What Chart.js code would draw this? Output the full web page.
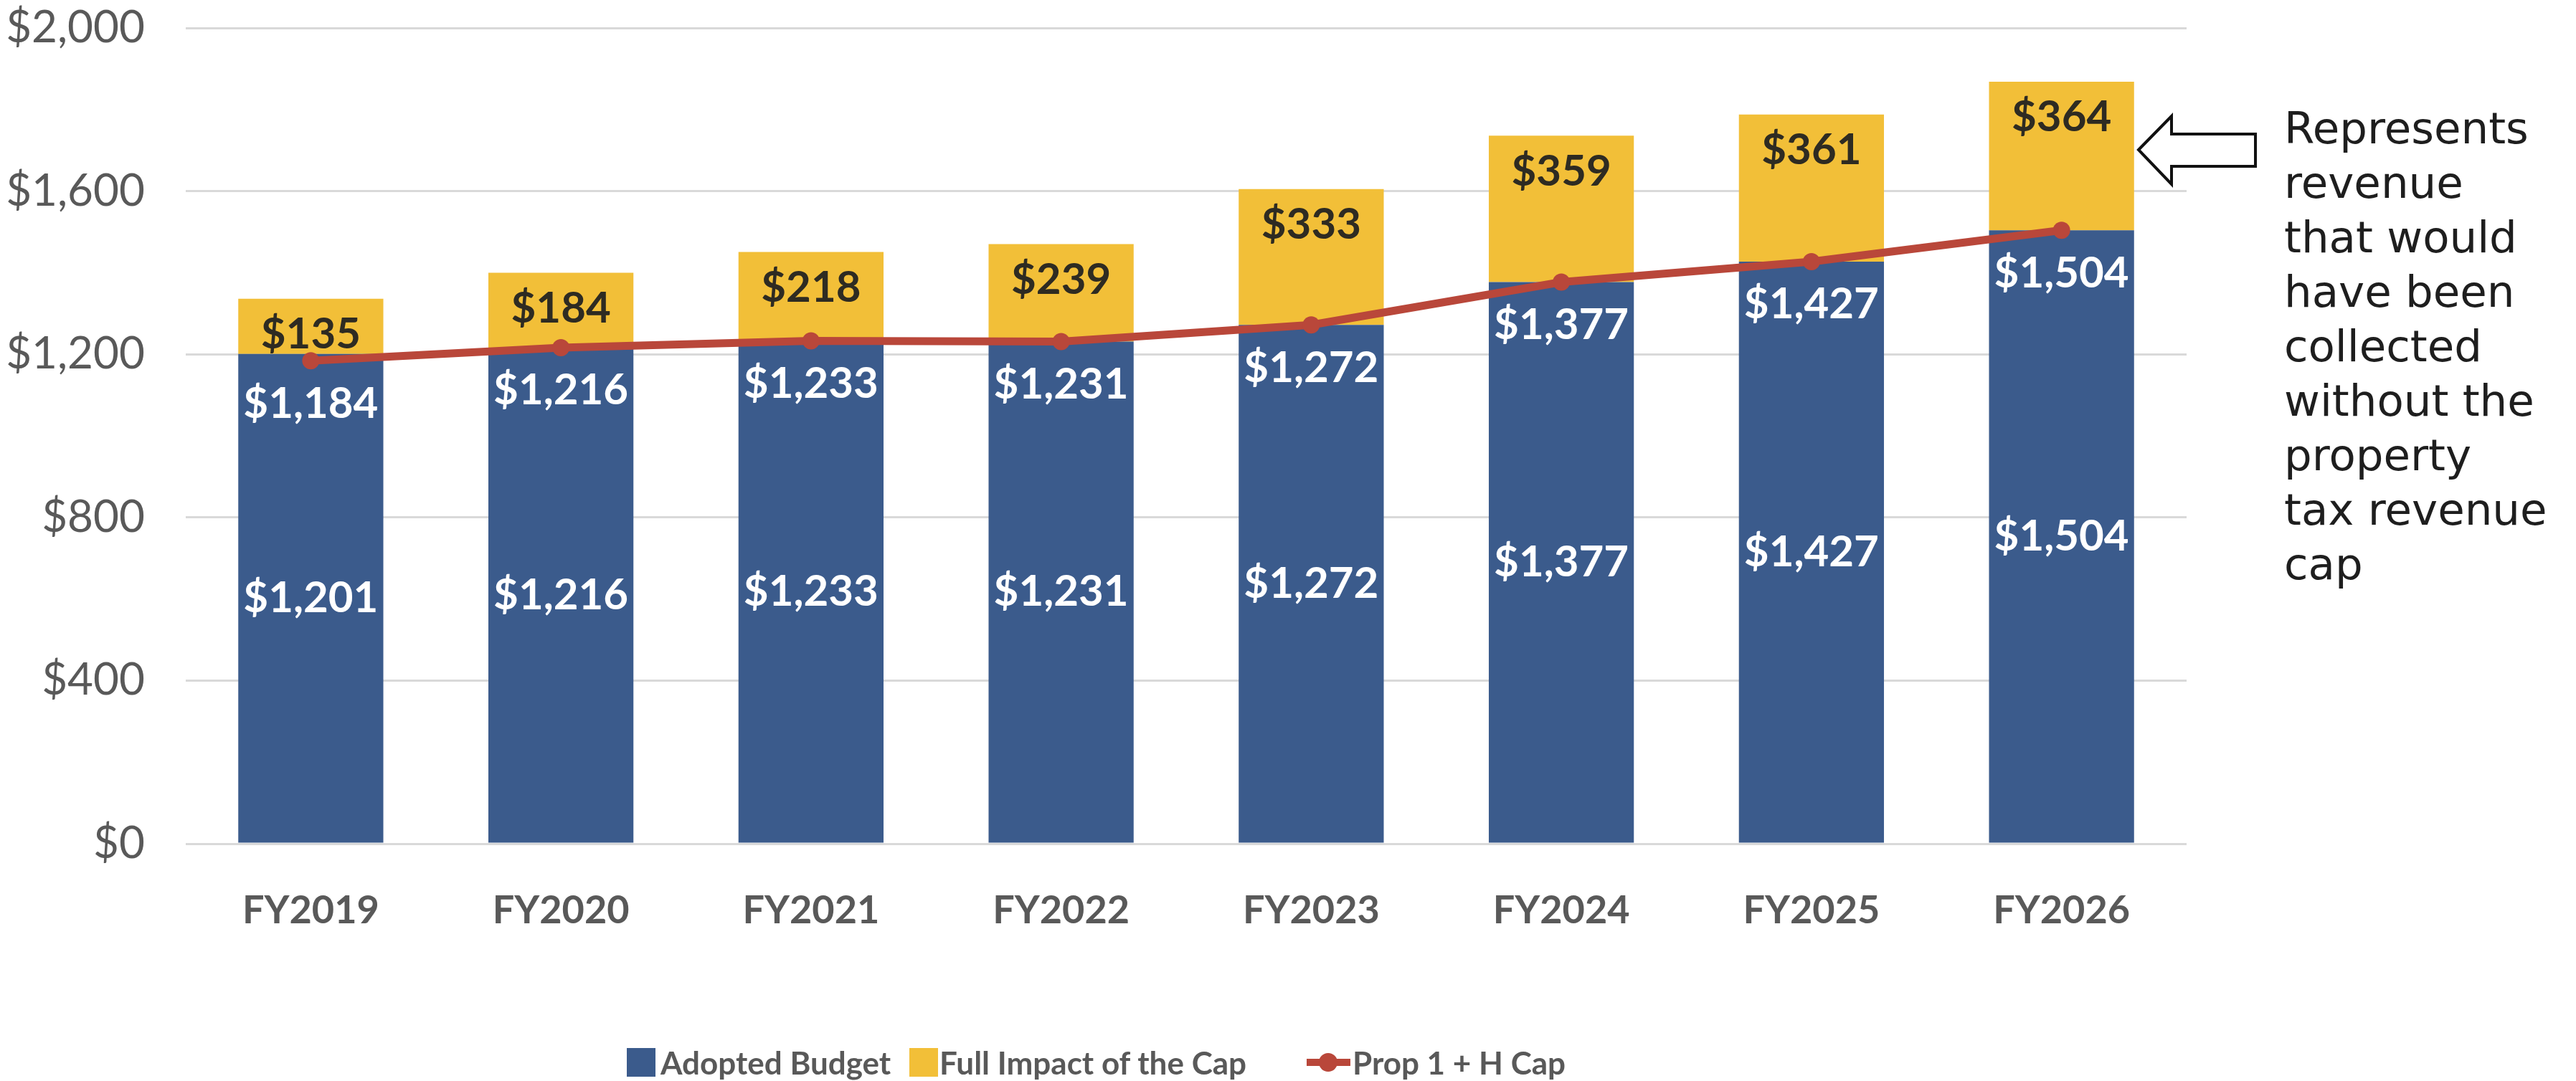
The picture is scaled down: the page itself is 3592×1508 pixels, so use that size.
<!DOCTYPE html>
<html>
<head>
<meta charset="utf-8">
<script src="https://cdn.jsdelivr.net/npm/chart.js@4"></script>
<style>
  html, body { margin: 0; padding: 0; background: #fff; }
  #wrap { position: relative; width: 3592px; height: 1508px; }
  #note {
    position: absolute; left: 3185px; top: 141px;
    font-family: "DejaVu Sans", sans-serif; font-size: 61px; line-height: 76px; color: #1e1e1e;
  }
  .lg { position: absolute; font-family: Lato, sans-serif; font-weight: 700; font-size: 44px; color: #595959; line-height: 44px; top: 1460px; white-space: nowrap; }
  .sw { position: absolute; width: 40px; height: 40px; top: 1462px; }
</style>
</head>
<body>
<div id="wrap">
  <canvas id="capChart" width="3592" height="1508"></canvas>

  <svg style="position:absolute;left:0;top:0" width="3592" height="1508">
    <!-- seta da anotação -->
    <polygon points="2982,209 3028,162 3028,187 3145,187 3145,232 3028,232 3028,257"
             fill="#fff" stroke="#111" stroke-width="4" stroke-linejoin="miter"/>
    <!-- marcador da linha na legenda -->
    <line x1="1822" y1="1482" x2="1883" y2="1482" stroke="#b9473a" stroke-width="10"/>
    <circle cx="1852" cy="1482" r="13" fill="#b9473a"/>
  </svg>

  <div id="note">Represents<br>revenue<br>that would<br>have been<br>collected<br>without the<br>property<br>tax revenue<br>cap</div>

  <div class="sw" style="left:874px;background:#3b5b8c"></div>
  <div class="lg" style="left:921px">Adopted Budget</div>
  <div class="sw" style="left:1268px;background:#f2bf38"></div>
  <div class="lg" style="left:1310px">Full Impact of the Cap</div>
  <div class="lg" style="left:1886px">Prop 1 + H Cap</div>
</div>

<script>
// Dados do gráfico
const years = ['FY2019', 'FY2020', 'FY2021', 'FY2022', 'FY2023', 'FY2024', 'FY2025', 'FY2026'];
const adoptedBudget = [1201, 1216, 1233, 1231, 1272, 1377, 1427, 1504];
const fullImpact = [135, 184, 218, 239, 333, 359, 361, 364];
const prop1HCap = [1184, 1216, 1233, 1231, 1272, 1377, 1427, 1504];
const yTicks = [0, 400, 800, 1200, 1600, 2000];

const BLUE = '#3b5b8c';
const GOLD = '#f2bf38';
const RED = '#b9473a';

function money(v) {
    return '$' + v.toLocaleString('en-US');
}

// Rótulos de valor sobre as barras e a linha
const valueLabels = {
    id: 'valueLabels',
    afterDatasetsDraw(chart) {
        const ctx = chart.ctx;
        ctx.save();
        ctx.font = '700 60px Lato';
        ctx.textAlign = 'center';
        ctx.textBaseline = 'middle';

        chart.getDatasetMeta(0).data.forEach((bar, i) => {
            ctx.fillStyle = '#ffffff';
            ctx.fillText(money(adoptedBudget[i]), bar.x, (bar.y + bar.base) / 2);
        });
        chart.getDatasetMeta(1).data.forEach((bar, i) => {
            ctx.fillStyle = '#2e2b22';
            ctx.fillText(money(fullImpact[i]), bar.x, bar.y + 50);
        });
        chart.getDatasetMeta(2).data.forEach((pt, i) => {
            ctx.fillStyle = '#ffffff';
            ctx.fillText(money(prop1HCap[i]), pt.x, pt.y + 60);
        });
        ctx.restore();
    }
};

const ctx = document.getElementById('capChart').getContext('2d');
const capChart = new Chart(ctx, {
    data: {
        labels: years,
        datasets: [
            {
                type: 'bar',
                label: 'Adopted Budget',
                data: adoptedBudget,
                backgroundColor: BLUE,
                stack: 'budget',
                order: 2,
                barPercentage: 0.58,
                categoryPercentage: 1
            },
            {
                type: 'bar',
                label: 'Full Impact of the Cap',
                data: fullImpact,
                backgroundColor: GOLD,
                stack: 'budget',
                order: 2,
                barPercentage: 0.58,
                categoryPercentage: 1
            },
            {
                type: 'line',
                label: 'Prop 1 + H Cap',
                data: prop1HCap,
                borderColor: RED,
                backgroundColor: RED,
                borderWidth: 11,
                pointRadius: 12,
                pointBorderWidth: 0,
                tension: 0,
                stack: 'cap',
                order: 1
            }
        ]
    },
    options: {
        responsive: false,
        animation: false,
        layout: { padding: { left: 0, right: 543, top: 39, bottom: 0 } },
        plugins: {
            legend: { display: false },
            tooltip: { enabled: false }
        },
        scales: {
            x: {
                stacked: true,
                grid: { display: false },
                border: { display: false },
                ticks: {
                    color: '#595959',
                    font: { family: 'Lato', size: 54, weight: '700' },
                    padding: 53
                },
                afterFit(scale) { scale.height = 331; }
            },
            y: {
                stacked: true,
                min: 0,
                max: 2000,
                afterBuildTicks(scale) { scale.ticks = yTicks.map(v => ({ value: v })); },
                grid: { color: '#d9d9d9', lineWidth: 3, drawTicks: false },
                border: { display: false },
                ticks: {
                    color: '#595959',
                    font: { family: 'Lato', size: 62 },
                    padding: 57,
                    callback: v => money(v)
                },
                afterFit(scale) {
                    scale.width = 259;
                    scale.paddingTop = 0;
                    scale.paddingBottom = 0;
                }
            }
        }
    },
    plugins: [valueLabels]
});
</script>
</body>
</html>
